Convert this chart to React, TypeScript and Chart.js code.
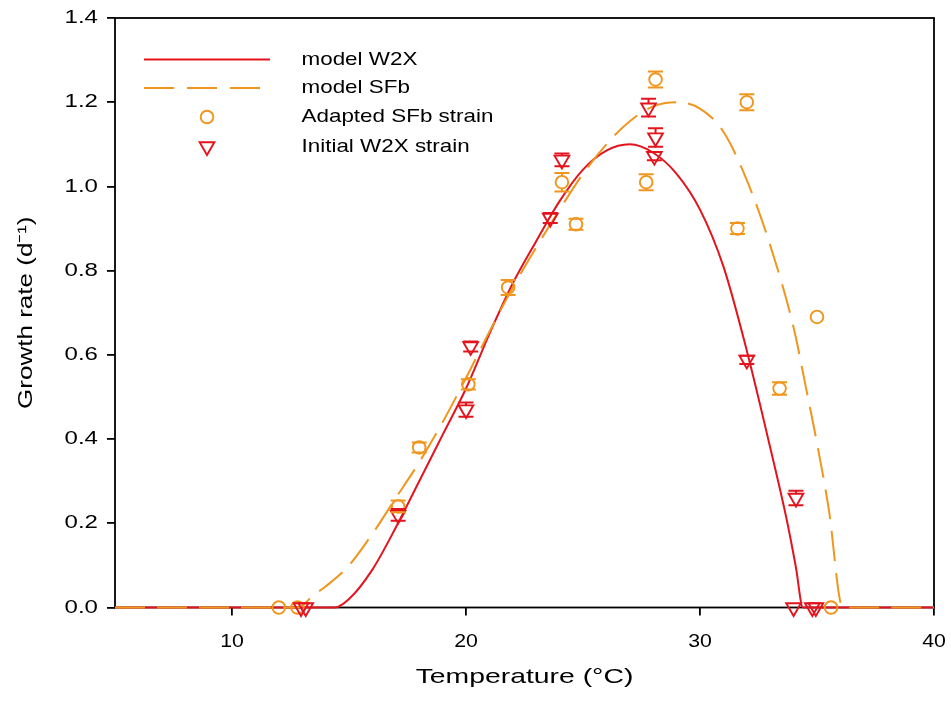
import React, { useEffect, useRef } from "react";
import { Chart, registerables } from "chart.js";

Chart.register(...registerables);

// ---------- data ----------
// model curves (temperature °C, growth rate d^-1)
const modelW2XTemp = [5, 14.4, 15, 16, 17, 18, 19, 20, 21, 22, 23, 24, 25, 26, 27, 28, 29, 30, 31, 32, 33, 33.7, 34.1, 34.4, 40];
const modelW2XRate = [0, 0, 0.02, 0.09, 0.19, 0.3, 0.41, 0.52, 0.65, 0.77, 0.87, 0.965, 1.04, 1.085, 1.1, 1.08, 1.03, 0.945, 0.81, 0.61, 0.38, 0.21, 0.095, 0, 0];

const modelSFbTemp = [5, 12.8, 13.5, 14, 15, 16, 17, 18, 19, 20, 21, 22, 23, 24, 25, 26, 27, 28, 29, 30, 31, 32, 33, 34, 34.5, 35, 35.5, 36.1, 40];
const modelSFbRate = [0, 0, 0.03, 0.05, 0.1, 0.175, 0.26, 0.345, 0.44, 0.545, 0.655, 0.76, 0.855, 0.945, 1.03, 1.1, 1.155, 1.19, 1.2, 1.185, 1.13, 1.015, 0.86, 0.665, 0.53, 0.39, 0.235, 0, 0];

// Adapted SFb strain (circles)
const sfbTemp = [12.0, 12.8, 17.1, 18.0, 20.1, 21.8, 24.1, 24.7, 27.7, 28.1, 31.6, 32.0, 33.4, 35.0, 35.6];
const sfbRate = [0, 0, 0.24, 0.38, 0.53, 0.76, 1.01, 0.91, 1.01, 1.254, 0.9, 1.2, 0.52, 0.69, 0];
const sfbErr = [0, 0, 0.014, 0.012, 0.012, 0.018, 0.022, 0.013, 0.019, 0.019, 0.013, 0.019, 0.015, 0, 0];

// Initial W2X strain (triangles)
const w2xTemp = [12.95, 13.15, 17.1, 20.0, 20.2, 23.6, 24.1, 27.8, 28.1, 28.05, 32.0, 34.1, 34.0, 34.8, 34.95];
const w2xRate = [0, 0, 0.22, 0.47, 0.62, 0.925, 1.063, 1.187, 1.116, 1.072, 0.588, 0.26, 0, 0, 0];
const w2xErr = [0, 0, 0.014, 0.017, 0.012, 0.012, 0.015, 0.021, 0.022, 0.01, 0.01, 0.017, 0, 0, 0];

const xTickValues = [10, 20, 30, 40];
const yTickValues = [0, 0.2, 0.4, 0.6, 0.8, 1.0, 1.2, 1.4];

const legendLabels = ["model W2X", "model SFb", "Adapted SFb strain", "Initial W2X strain"];
const xTitle = "Temperature (°C)";
const yTitle = "Growth rate (d⁻¹)";

// ---------- styles ----------
const RED = "#E3141E";
const ORANGE = "#F0961E";
const FONT = '"Liberation Sans", Arial, sans-serif';
const SX_YTICK = 1.3;
const SX_XTICK = 1.15;
const SX_XTITLE = 1.35;
const SX_YTITLE = 1.24;
const SX_LEGEND = 1.18;
const CAP = 7.5;
const LINE_W = 2;

const toXY = (xs: number[], ys: number[]) => xs.map((t, i) => ({ x: t, y: ys[i] }));

// the original figure's lettering is horizontally wide: stretch text along its baseline
function stretchText(ctx: CanvasRenderingContext2D) {
  (ctx as any).fillText = function (text: string, x: number, y: number) {
    const s = String(text);
    let sx = SX_XTITLE;
    if (/^\d\.\d$/.test(s)) sx = SX_YTICK;
    else if (/^\d+$/.test(s)) sx = SX_XTICK;
    else if (s === yTitle) sx = SX_YTITLE;
    this.save();
    this.translate(x, y);
    this.scale(sx, 1);
    CanvasRenderingContext2D.prototype.fillText.call(this, s, 0, 0);
    this.restore();
  };
}

const framePlugin = {
  id: "frame",
  beforeDatasetsDraw(chart: any) {
    const { ctx, chartArea: a } = chart;
    ctx.save();
    ctx.strokeStyle = "#000";
    ctx.lineWidth = 1.8;
    ctx.setLineDash([]);
    ctx.strokeRect(a.left, a.top, a.right - a.left, a.bottom - a.top);
    ctx.restore();
  },
};

const errorBarPlugin = {
  id: "errorBars",
  afterDatasetsDraw(chart: any) {
    const { ctx } = chart;
    const xs = chart.scales.x;
    const ys = chart.scales.y;
    const draw = (temps: number[], rates: number[], errs: number[], color: string, gapTop: number, gapBottom: number) => {
      ctx.save();
      ctx.strokeStyle = color;
      ctx.lineWidth = 2;
      ctx.setLineDash([]);
      temps.forEach((t, i) => {
        const e = errs[i];
        if (!e) return;
        const px = xs.getPixelForValue(t);
        const yc = ys.getPixelForValue(rates[i]);
        const yt = ys.getPixelForValue(rates[i] + e);
        const yb = ys.getPixelForValue(rates[i] - e);
        ctx.beginPath();
        ctx.moveTo(px - CAP, yt);
        ctx.lineTo(px + CAP, yt);
        ctx.moveTo(px - CAP, yb);
        ctx.lineTo(px + CAP, yb);
        if (yc - gapTop > yt) {
          ctx.moveTo(px, yt);
          ctx.lineTo(px, yc - gapTop);
        }
        if (yc + gapBottom < yb) {
          ctx.moveTo(px, yc + gapBottom);
          ctx.lineTo(px, yb);
        }
        ctx.stroke();
      });
      ctx.restore();
    };
    draw(sfbTemp, sfbRate, sfbErr, ORANGE, 6.5, 6.5);
    draw(w2xTemp, w2xRate, w2xErr, RED, 4, 8.5);
  },
};

const legendPlugin = {
  id: "insideLegend",
  afterDraw(chart: any) {
    const { ctx, chartArea: a } = chart;
    const x0 = a.left + 29;
    const x1 = a.left + 155;
    const xm = a.left + 92;
    const xt = a.left + 186.5;
    const rows = [a.top + 41.5, a.top + 70, a.top + 99, a.top + 128.5];
    ctx.save();
    ctx.lineWidth = LINE_W;
    // model W2X
    ctx.strokeStyle = RED;
    ctx.setLineDash([]);
    ctx.beginPath();
    ctx.moveTo(x0, rows[0]);
    ctx.lineTo(x1, rows[0]);
    ctx.stroke();
    // model SFb
    ctx.strokeStyle = ORANGE;
    ctx.setLineDash([30, 13]);
    ctx.beginPath();
    ctx.moveTo(x0, rows[1]);
    ctx.lineTo(x0 + 116, rows[1]);
    ctx.stroke();
    ctx.setLineDash([]);
    ctx.lineWidth = 1.9;
    // circle
    ctx.strokeStyle = ORANGE;
    ctx.beginPath();
    ctx.arc(xm, rows[2], 6.3, 0, Math.PI * 2);
    ctx.stroke();
    // triangle (pointing down)
    const r = 8.5;
    const s = r * Math.sin(Math.PI / 3);
    ctx.strokeStyle = RED;
    ctx.beginPath();
    ctx.moveTo(xm, rows[3] + r);
    ctx.lineTo(xm - s, rows[3] - r / 2);
    ctx.lineTo(xm + s, rows[3] - r / 2);
    ctx.closePath();
    ctx.stroke();
    // labels
    ctx.fillStyle = "#000";
    ctx.font = `19px ${FONT}`;
    ctx.textAlign = "left";
    ctx.textBaseline = "middle";
    legendLabels.forEach((lab, i) => {
      ctx.save();
      ctx.translate(xt, rows[i]);
      ctx.scale(SX_LEGEND, 1);
      CanvasRenderingContext2D.prototype.fillText.call(ctx, lab, 0, 0);
      ctx.restore();
    });
    ctx.restore();
  },
};

export default function App() {
  const ref = useRef<HTMLCanvasElement>(null);

  useEffect(() => {
    const canvas = ref.current;
    if (!canvas) return;
    const ctx = canvas.getContext("2d");
    if (!ctx) return;
    stretchText(ctx);

    Chart.defaults.font.family = FONT;
    Chart.defaults.color = "#000";

    const chart = new Chart(ctx, {
      type: "line",
      data: {
        datasets: [
          {
            label: legendLabels[0],
            data: toXY(modelW2XTemp, modelW2XRate),
            borderColor: RED,
            borderWidth: LINE_W,
            pointRadius: 0,
            cubicInterpolationMode: "monotone",
            fill: false,
            clip: false,
            order: 4,
          } as any,
          {
            label: legendLabels[1],
            data: toXY(modelSFbTemp, modelSFbRate),
            borderColor: ORANGE,
            borderWidth: LINE_W,
            borderDash: [30, 12],
            pointRadius: 0,
            cubicInterpolationMode: "monotone",
            fill: false,
            clip: false,
            order: 3,
          } as any,
          {
            label: legendLabels[2],
            data: toXY(sfbTemp, sfbRate),
            showLine: false,
            pointStyle: "circle",
            pointRadius: 6.3,
            pointBorderWidth: 1.9,
            pointBorderColor: ORANGE,
            pointBackgroundColor: "rgba(0,0,0,0)",
            borderColor: ORANGE,
            clip: false,
            order: 2,
          } as any,
          {
            label: legendLabels[3],
            data: toXY(w2xTemp, w2xRate),
            showLine: false,
            pointStyle: "triangle",
            pointRotation: 180,
            pointRadius: 8.5,
            pointBorderWidth: 1.9,
            pointBorderColor: RED,
            pointBackgroundColor: "rgba(0,0,0,0)",
            borderColor: RED,
            clip: false,
            order: 1,
          } as any,
        ],
      },
      options: {
        responsive: false,
        animation: false,
        events: [],
        layout: { padding: { top: 18, right: 17, left: 0, bottom: 0 } },
        plugins: {
          legend: { display: false },
          tooltip: { enabled: false },
        },
        scales: {
          x: {
            type: "linear",
            min: 5,
            max: 40,
            afterFit: (s: any) => {
              s.height = 101.5;
              s.paddingLeft = 0;
              s.paddingRight = 0;
            },
            afterBuildTicks: (s: any) => {
              s.ticks = xTickValues.map((v) => ({ value: v }));
            },
            grid: { drawOnChartArea: false, drawTicks: true, tickLength: 8, color: "#000", lineWidth: 1.8 },
            border: { display: false },
            ticks: {
              autoSkip: false,
              maxRotation: 0,
              padding: 15,
              color: "#000",
              font: { size: 18.5, family: FONT },
              callback: (v: any) => String(v),
            },
            title: {
              display: true,
              text: xTitle,
              color: "#000",
              font: { size: 21, family: FONT },
              padding: { top: 0, bottom: 19 },
            },
          },
          y: {
            type: "linear",
            min: 0,
            max: 1.4,
            afterFit: (s: any) => {
              s.width = 115;
              s.paddingTop = 0;
              s.paddingBottom = 0;
            },
            afterBuildTicks: (s: any) => {
              s.ticks = yTickValues.map((v) => ({ value: v }));
            },
            grid: { drawOnChartArea: false, drawTicks: true, tickLength: 8, color: "#000", lineWidth: 1.8 },
            border: { display: false },
            ticks: {
              autoSkip: false,
              padding: 9,
              color: "#000",
              font: { size: 18.5, family: FONT },
              callback: (v: any) => Number(v).toFixed(1),
            },
            title: {
              display: true,
              text: yTitle,
              color: "#000",
              font: { size: 21, family: FONT },
              padding: { top: 14, bottom: 0 },
            },
          },
        },
      },
      plugins: [framePlugin, errorBarPlugin, legendPlugin],
    } as any);

    return () => chart.destroy();
  }, []);

  return (
    <div style={{ position: "fixed", left: 0, top: 0, width: 951, height: 709, background: "#fff" }}>
      <canvas ref={ref} width={951} height={709} style={{ display: "block", width: 951, height: 709 }} />
    </div>
  );
}
